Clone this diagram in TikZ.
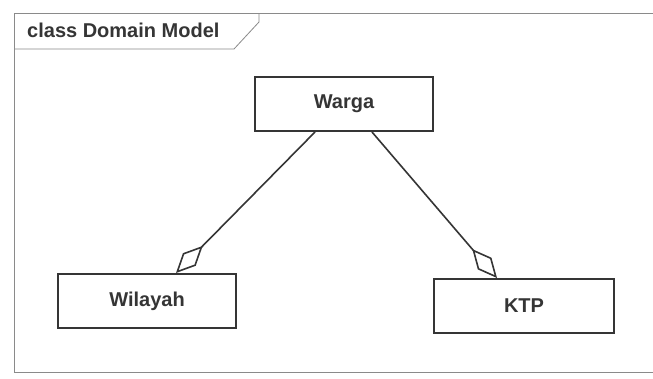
\documentclass[tikz,border=0pt]{standalone}
\usepackage{fontspec}
\setmainfont{Liberation Sans}
\usetikzlibrary{arrows.meta}
\definecolor{ink}{HTML}{353535}
\definecolor{framec}{HTML}{8A8A8A}
\begin{document}
\begin{tikzpicture}[x=1pt,y=-1pt,
  classbox/.style={draw=ink,line width=2pt,fill=white,minimum width=178pt,minimum height=54pt,inner sep=0pt,font=\fontsize{20}{22}\selectfont\bfseries,text=ink},
  agg/.style={draw=ink,line width=1.6pt,{Diamond[open,length=38pt,width=18pt,line width=1.6pt]}-},
  framel/.style={draw=framec,line width=0.8pt}]
\useasboundingbox (0,0) rectangle (653,378);
\fill[white] (0,0) rectangle (653,378);
\draw[framel] (653,13) -- (14,13) -- (14,372) -- (653,372);
\draw[framel] (14,49) -- (234,49) -- (259,22) -- (259,13);
\node[anchor=west,font=\fontsize{20}{22}\selectfont\bfseries,text=ink,inner sep=0pt] (title) at (27,30) {class Domain Model};
\node[classbox] (warga) at (344,104) {Warga};
\node[classbox] (wilayah) at (147,301) {Wilayah};
\node[classbox,minimum width=180pt] (ktp) at (524,306) {KTP};
\draw[agg] ([xshift=29pt]wilayah.north) -- ([xshift=-29pt]warga.south);
\draw[agg] ([xshift=-27pt]ktp.north) -- ([xshift=28pt]warga.south);
\end{tikzpicture}
\end{document}
